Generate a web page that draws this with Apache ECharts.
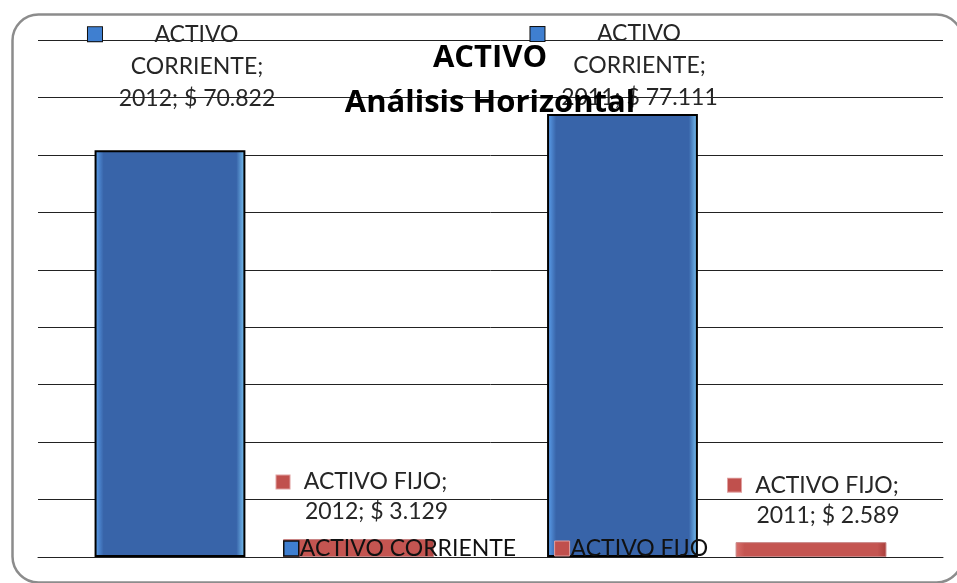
<!DOCTYPE html>
<html><head><meta charset="utf-8">
<script src="https://cdn.jsdelivr.net/npm/echarts@6/dist/echarts.min.js"></script>
<style>html,body{margin:0;padding:0;background:#fff}#c{width:957px;height:583px}</style>
</head><body><div id="c"></div>
<script>
const categories = ['2012', '2011'];
const seriesNames = ['ACTIVO CORRIENTE', 'ACTIVO FIJO'];
const activoCorriente = [70.822, 77.111];
const activoFijo = [3.129, 2.589];
const titleLines = ['ACTIVO', 'Análisis Horizontal'];
const yMax = 90, yStep = 10;

const FONT = 'Lato';
const BLUE_FILL = {type:'linear',x:0,y:0,x2:1,y2:0,colorStops:[
  {offset:0,color:'#5fa5f2'},{offset:0.06,color:'#3864a9'},{offset:0.94,color:'#3864a9'},{offset:1,color:'#7dcaf9'}]};
const RED_FILL = {type:'linear',x:0,y:0,x2:1,y2:0,colorStops:[
  {offset:0,color:'#d9706c'},{offset:0.06,color:'#c45551'},{offset:0.94,color:'#c45551'},{offset:1,color:'#a83e3b'}]};

const fmt = v => '$ ' + v.toFixed(3);

const richBase = {
  ib: {width:14,height:14,backgroundColor:'#3f7fd0',borderColor:'#111',borderWidth:1,align:'left'},
  ir: {width:13,height:13,backgroundColor:'#c0504d',borderColor:'#e0a0a0',borderWidth:1,align:'left'},
  p: {width:15,align:'right'},
  t: {fontSize:23,fontFamily:FONT,color:'#262626',align:'center'}
};

// per-item label placement (style only)
const blueLabelPlace = [{dist:36,dx:27},{dist:0,dx:17}];
const redLabelPlace = [{dist:12,dx:18},{dist:12,dx:17}];

const blueData = activoCorriente.map((v,i)=>({
  value:v,
  label:{show:true,position:'top',distance:blueLabelPlace[i].dist,offset:[blueLabelPlace[i].dx,0],
    width:218,lineHeight:32,
    formatter:'{ib|}{t|ACTIVO}{p|}\n{t|CORRIENTE;}\n{t|' + categories[i] + '; ' + fmt(v) + '}',
    rich:richBase}
}));
const redData = activoFijo.map((v,i)=>({
  value:v,
  label:{show:true,position:'top',distance:redLabelPlace[i].dist,offset:[redLabelPlace[i].dx,0],
    width:200,lineHeight:30,
    formatter:'{ir|}{t|ACTIVO FIJO;}{p|}\n{t|' + categories[i] + '; ' + fmt(v) + '}',
    rich:richBase}
}));

const chart = echarts.init(document.getElementById('c'));
chart.setOption({
  backgroundColor:'#fff',
  animation:false,
  graphic:[{type:'rect',left:10,top:12,shape:{width:950,height:568,r:26},
    style:{fill:'none',stroke:'#8c8c8c',lineWidth:2.5},z:-1}],
  title:{text:titleLines.join('\n'),left:485,top:31,textAlign:'center',
    textStyle:{fontFamily:'Open Sans',fontWeight:'bold',fontSize:31,lineHeight:45,color:'#000'}},
  legend:{left:283,top:537,padding:0,itemWidth:15,itemHeight:15,itemGap:38,
    textStyle:{fontFamily:FONT,fontSize:23,color:'#111',padding:[0,0,0,-4]},
    data:[{name:seriesNames[0],icon:'rect',itemStyle:{color:'#3f7fd0',borderColor:'#111',borderWidth:1.5}},
          {name:seriesNames[1],icon:'rect',itemStyle:{color:'#c0504d',borderColor:'#e0a0a0',borderWidth:1}}]},
  grid:{left:38,right:14,top:40,bottom:26},
  xAxis:{type:'category',data:categories,axisLabel:{show:false},axisTick:{show:false},
    axisLine:{lineStyle:{color:'#222',width:1}}},
  yAxis:{type:'value',min:0,max:yMax,interval:yStep,axisLabel:{show:false},axisLine:{show:false},
    axisTick:{show:false},splitLine:{lineStyle:{color:'#222',width:1}}},
  series:[
    {name:seriesNames[0],type:'bar',data:blueData,barGap:'25%',barCategoryGap:'25%',
      itemStyle:{color:BLUE_FILL,borderColor:'#000',borderWidth:2}},
    {name:seriesNames[1],type:'bar',data:redData,barGap:'25%',barCategoryGap:'25%',
      itemStyle:{color:RED_FILL,borderColor:'#c98585',borderWidth:1}}
  ]
});
</script></body></html>
